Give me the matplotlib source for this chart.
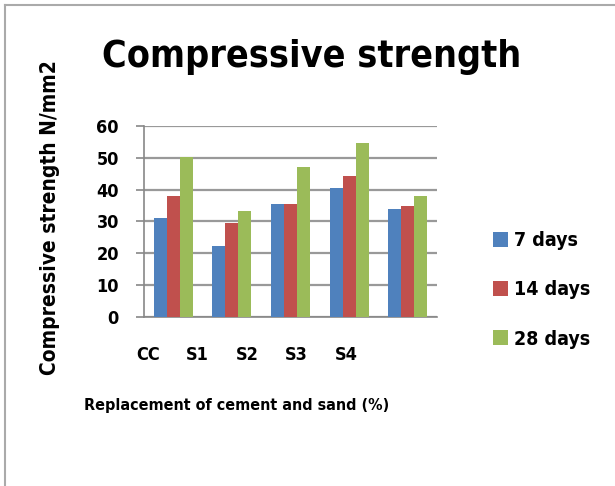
import numpy as np
import matplotlib.pyplot as plt
from matplotlib.lines import Line2D

categories = ['CC', 'S1', 'S2', 'S3', 'S4']
days7 = [31, 22.2, 35.5, 40.5, 33.9]
days14 = [38, 29.6, 35.5, 44.3, 34.9]
days28 = [50.2, 33.4, 47.2, 54.7, 38]
series_names = ['7 days', '14 days', '28 days']
colors = ['#4F81BD', '#C0504D', '#9BBB59']

plt.rcParams['font.family'] = ['DejaVu Sans']
plt.rcParams['font.stretch'] = 'condensed'

fig = plt.figure(figsize=(6.15, 4.86), dpi=100)
ax = fig.add_axes([0.234, 0.348, 0.477, 0.393])

x = np.arange(len(categories))
w = 0.222
for i, (vals, name) in enumerate(zip([days7, days14, days28], series_names)):
    ax.bar(x + (i - 1) * w, vals, width=w, color=colors[i], label=name, zorder=3)

ax.set_xlim(-0.5, 4.5)
ax.set_ylim(0, 60)
ax.set_yticks(range(0, 61, 10))
# category labels sit slightly compressed to the left in the original image
ax.set_xticks(x * 0.845 - 0.43)
ax.set_xticklabels(categories)
ax.yaxis.grid(True, color='#999999', linewidth=1.6, zorder=0)
for s in ['top', 'right']:
    ax.spines[s].set_visible(False)
for s in ['left', 'bottom']:
    ax.spines[s].set_color('#888888')
    ax.spines[s].set_linewidth(1.2)
ax.tick_params(axis='y', length=6, width=1.2, color='#888888', pad=12,
               labelsize=13)
ax.tick_params(axis='x', length=0, pad=21, labelsize=13)
for lbl in ax.get_xticklabels() + ax.get_yticklabels():
    lbl.set_fontweight('bold')

fig.text(0.506, 0.883, 'Compressive strength', ha='center', va='center',
         fontsize=27, fontweight='bold')
fig.text(0.081, 0.553, 'Compressive strength N/mm2', rotation=90, ha='center',
         va='center', fontsize=15, fontweight='bold')
fig.text(0.384, 0.166, 'Replacement of cement and sand (%)', ha='center',
         va='center', fontsize=11.5, fontweight='bold')

leg = fig.legend(loc='upper left', bbox_to_anchor=(0.773, 0.56), frameon=False,
                 handlelength=0.8, handleheight=0.8, handletextpad=0.3,
                 labelspacing=1.55, prop={'size': 14, 'weight': 'bold'})

# border on top and left only
fig.add_artist(Line2D([0.008, 1.0], [0.99, 0.99], color='#AAAAAA', linewidth=1.5,
                      transform=fig.transFigure))
fig.add_artist(Line2D([0.008, 0.008], [0.0, 0.99], color='#AAAAAA', linewidth=1.5,
                      transform=fig.transFigure))

fig.savefig('out.png', dpi=100)
